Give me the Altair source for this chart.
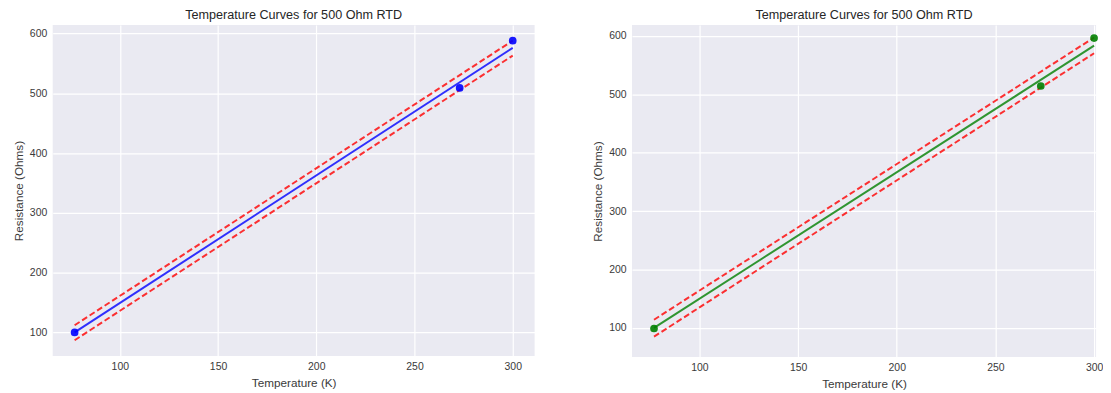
import altair as alt
import pandas as pd

# ---- data ----
temps = [77, 273, 300]
res_left = [100, 509, 588]
res_right = [99, 514, 596]

fit_temps = [77, 300]
fit_left = [100, 576]
upper_left = [112, 588]
lower_left = [87, 563]
fit_right = [100, 583]
upper_right = [114, 597]
lower_right = [85, 570]

x_ticks = [100, 150, 200, 250, 300]
y_ticks = [100, 200, 300, 400, 500, 600]

TITLE = "Temperature Curves for 500 Ohm RTD"
FONT = "Liberation Sans"


def panel(res, fit, upper, lower, color, point_color, xdom, ydom, w, h, toff):
    pts = pd.DataFrame({"T": temps, "R": res})
    fitdf = pd.DataFrame({"T": fit_temps, "R": fit})
    bands = pd.DataFrame({
        "T": fit_temps + fit_temps,
        "R": upper + lower,
        "band": ["upper"] * 2 + ["lower"] * 2,
    })
    x = alt.X("T:Q", scale=alt.Scale(domain=xdom, nice=False, zero=False),
              axis=alt.Axis(values=x_ticks, title="Temperature (K)"))
    y = alt.Y("R:Q", scale=alt.Scale(domain=ydom, nice=False, zero=False),
              axis=alt.Axis(values=y_ticks, title="Resistance (Ohms)"))
    dashed = alt.Chart(bands).mark_line(
        color="#ff0000", opacity=0.8, strokeWidth=2, strokeDash=[6, 3]
    ).encode(x=x, y=y, detail="band:N")
    line = alt.Chart(fitdf).mark_line(
        color=color, opacity=0.8, strokeWidth=2
    ).encode(x=x, y=y)
    dots = alt.Chart(pts).mark_circle(
        color=point_color, opacity=0.9, size=60
    ).encode(x=x, y=y)
    return alt.layer(dashed, line, dots).properties(
        width=w, height=h,
        title=alt.TitleParams(TITLE, fontSize=12.7, font=FONT, fontWeight="normal",
                              color="#262626", offset=toff),
    )


left = panel(res_left, fit_left, upper_left, lower_left, "#0000ff", "#0000ff",
             [65.85, 311.15], [60.6, 614], 485, 333, 3)
right = panel(res_right, fit_right, upper_right, lower_right, "#008000", "#008000",
              [65.85, 301], [50.2, 618.2], 467, 334, 3)

chart = alt.hconcat(left, right, spacing=58).properties(
    padding={"left": 5, "top": 0, "right": 0, "bottom": 0}
).configure_view(
    fill="#EAEAF2", strokeWidth=0
).configure_axis(
    grid=True, gridColor="#ffffff", gridWidth=1.2, domain=False, ticks=False,
    labelFont=FONT, labelFontSize=10.5, labelColor="#3a3a3a", labelPadding=6,
    labelFlush=False,
    titleFont=FONT, titleFontSize=11.8, titleFontWeight="normal", titleColor="#3a3a3a",
    titlePadding=5,
)

chart.save("out.html", embed_options={"renderer": "svg", "actions": False})
